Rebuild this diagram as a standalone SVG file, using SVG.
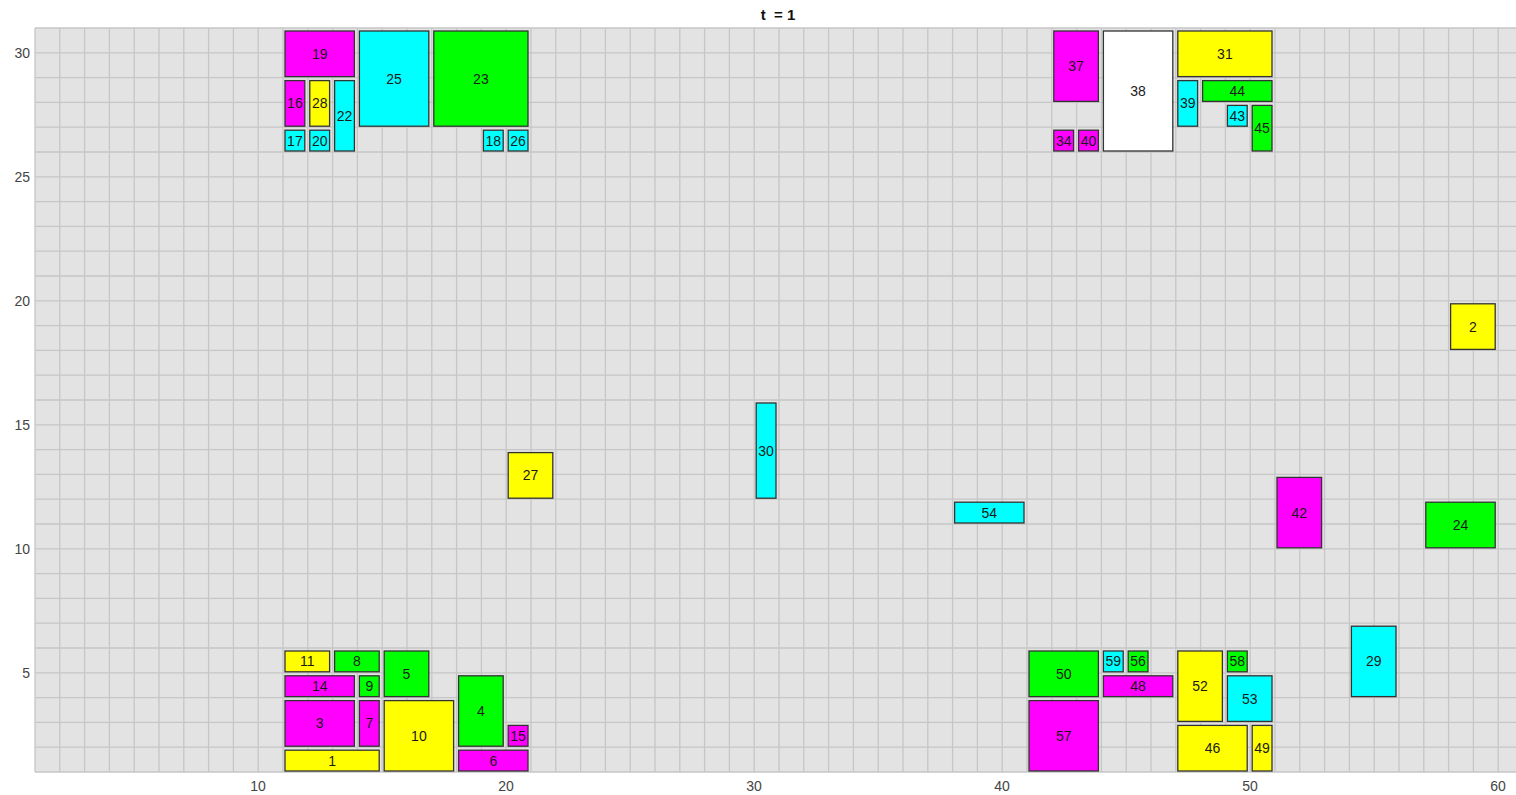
<svg xmlns="http://www.w3.org/2000/svg" width="1516" height="795" viewBox="0 0 1516 795">
<style>
.bg{fill:#e3e3e3}
.grid{stroke:#c6c6c6;stroke-width:1.3;fill:none}
.tick{font-family:"Liberation Sans",Arial,sans-serif;font-size:14px;fill:#444}
.title{font-family:"Liberation Sans",Arial,sans-serif;font-size:15px;font-weight:bold;fill:#111}
.n rect{stroke:#333;stroke-width:1.3}
.n text{font-family:"Liberation Sans",Arial,sans-serif;font-size:14px;fill:#1a1a1a;text-anchor:middle}
.M{fill:#ff00ff}.C{fill:#00ffff}.Y{fill:#ffff00}.G{fill:#00ff00}.W{fill:#ffffff}
</style>
<rect width="1516" height="795" fill="#ffffff"/>
<rect class="bg" x="35" y="28" width="1481" height="744"/>
<g id="grid">
<path class="grid" d="M35,28V772M59.8,28V772M84.6,28V772M109.4,28V772M134.2,28V772M159,28V772M183.8,28V772M208.6,28V772M233.4,28V772M258.2,28V772M283,28V772M307.8,28V772M332.6,28V772M357.4,28V772M382.2,28V772M407,28V772M431.8,28V772M456.6,28V772M481.4,28V772M506.2,28V772M531,28V772M555.8,28V772M580.6,28V772M605.4,28V772M630.2,28V772M655,28V772M679.8,28V772M704.6,28V772M729.4,28V772M754.2,28V772M779,28V772M803.8,28V772M828.6,28V772M853.4,28V772M878.2,28V772M903,28V772M927.8,28V772M952.6,28V772M977.4,28V772M1002.2,28V772M1027,28V772M1051.8,28V772M1076.6,28V772M1101.4,28V772M1126.2,28V772M1151,28V772M1175.8,28V772M1200.6,28V772M1225.4,28V772M1250.2,28V772M1275,28V772M1299.8,28V772M1324.6,28V772M1349.4,28V772M1374.2,28V772M1399,28V772M1423.8,28V772M1448.6,28V772M1473.4,28V772M1498.2,28V772"/>
<path class="grid" d="M35,28H1516M35,52.8H1516M35,77.6H1516M35,102.4H1516M35,127.2H1516M35,152H1516M35,176.8H1516M35,201.6H1516M35,226.4H1516M35,251.2H1516M35,276H1516M35,300.8H1516M35,325.6H1516M35,350.4H1516M35,375.2H1516M35,400H1516M35,424.8H1516M35,449.6H1516M35,474.4H1516M35,499.2H1516M35,524H1516M35,548.8H1516M35,573.6H1516M35,598.4H1516M35,623.2H1516M35,648H1516M35,672.8H1516M35,697.6H1516M35,722.4H1516M35,747.2H1516M35,772H1516"/>
</g>
<g id="axes">
<text class="tick" x="30" y="57.8" text-anchor="end">30</text>
<text class="tick" x="30" y="181.8" text-anchor="end">25</text>
<text class="tick" x="30" y="305.8" text-anchor="end">20</text>
<text class="tick" x="30" y="429.8" text-anchor="end">15</text>
<text class="tick" x="30" y="553.8" text-anchor="end">10</text>
<text class="tick" x="30" y="677.8" text-anchor="end">5</text>
<text class="tick" x="258" y="791" text-anchor="middle">10</text>
<text class="tick" x="506" y="791" text-anchor="middle">20</text>
<text class="tick" x="754" y="791" text-anchor="middle">30</text>
<text class="tick" x="1002" y="791" text-anchor="middle">40</text>
<text class="tick" x="1250" y="791" text-anchor="middle">50</text>
<text class="tick" x="1498" y="791" text-anchor="middle">60</text>
<text class="title" x="778" y="19.5" text-anchor="middle" xml:space="preserve">t  = 1</text>
</g>
<g id="connectors"></g>
<g id="n1" class="n" transform="translate(285,750.2)"><rect class="Y" width="94.2" height="20.8"/><text x="47.1" y="15.4">1</text></g>
<g id="n3" class="n" transform="translate(285,700.6)"><rect class="M" width="69.4" height="45.6"/><text x="34.7" y="27.8">3</text></g>
<g id="n4" class="n" transform="translate(458.6,675.8)"><rect class="G" width="44.6" height="70.4"/><text x="22.3" y="40.2">4</text></g>
<g id="n5" class="n" transform="translate(384.2,651)"><rect class="G" width="44.6" height="45.6"/><text x="22.3" y="27.8">5</text></g>
<g id="n6" class="n" transform="translate(458.6,750.2)"><rect class="M" width="69.4" height="20.8"/><text x="34.7" y="15.4">6</text></g>
<g id="n7" class="n" transform="translate(359.4,700.6)"><rect class="M" width="19.8" height="45.6"/><text x="9.9" y="27.8">7</text></g>
<g id="n8" class="n" transform="translate(334.6,651)"><rect class="G" width="44.6" height="20.8"/><text x="22.3" y="15.4">8</text></g>
<g id="n9" class="n" transform="translate(359.4,675.8)"><rect class="G" width="19.8" height="20.8"/><text x="9.9" y="15.4">9</text></g>
<g id="n10" class="n" transform="translate(384.2,700.6)"><rect class="Y" width="69.4" height="70.4"/><text x="34.7" y="40.2">10</text></g>
<g id="n11" class="n" transform="translate(285,651)"><rect class="Y" width="44.6" height="20.8"/><text x="22.3" y="15.4">11</text></g>
<g id="n14" class="n" transform="translate(285,675.8)"><rect class="M" width="69.4" height="20.8"/><text x="34.7" y="15.4">14</text></g>
<g id="n15" class="n" transform="translate(508.2,725.4)"><rect class="M" width="19.8" height="20.8"/><text x="9.9" y="15.4">15</text></g>
<g id="n16" class="n" transform="translate(285,80.6)"><rect class="M" width="19.8" height="45.6"/><text x="9.9" y="27.8">16</text></g>
<g id="n17" class="n" transform="translate(285,130.2)"><rect class="C" width="19.8" height="20.8"/><text x="9.9" y="15.4">17</text></g>
<g id="n18" class="n" transform="translate(483.4,130.2)"><rect class="C" width="19.8" height="20.8"/><text x="9.9" y="15.4">18</text></g>
<g id="n19" class="n" transform="translate(285,31)"><rect class="M" width="69.4" height="45.6"/><text x="34.7" y="27.8">19</text></g>
<g id="n20" class="n" transform="translate(309.8,130.2)"><rect class="C" width="19.8" height="20.8"/><text x="9.9" y="15.4">20</text></g>
<g id="n22" class="n" transform="translate(334.6,80.6)"><rect class="C" width="19.8" height="70.4"/><text x="9.9" y="40.2">22</text></g>
<g id="n23" class="n" transform="translate(433.8,31)"><rect class="G" width="94.2" height="95.2"/><text x="47.1" y="52.6">23</text></g>
<g id="n25" class="n" transform="translate(359.4,31)"><rect class="C" width="69.4" height="95.2"/><text x="34.7" y="52.6">25</text></g>
<g id="n26" class="n" transform="translate(508.2,130.2)"><rect class="C" width="19.8" height="20.8"/><text x="9.9" y="15.4">26</text></g>
<g id="n28" class="n" transform="translate(309.8,80.6)"><rect class="Y" width="19.8" height="45.6"/><text x="9.9" y="27.8">28</text></g>
<g id="n2" class="n" transform="translate(1450.6,303.8)"><rect class="Y" width="44.6" height="45.6"/><text x="22.3" y="27.8">2</text></g>
<g id="n24" class="n" transform="translate(1425.8,502.2)"><rect class="G" width="69.4" height="45.6"/><text x="34.7" y="27.8">24</text></g>
<g id="n27" class="n" transform="translate(508.2,452.6)"><rect class="Y" width="44.6" height="45.6"/><text x="22.3" y="27.8">27</text></g>
<g id="n29" class="n" transform="translate(1351.4,626.2)"><rect class="C" width="44.6" height="70.4"/><text x="22.3" y="40.2">29</text></g>
<g id="n30" class="n" transform="translate(756.2,403)"><rect class="C" width="19.8" height="95.2"/><text x="9.9" y="52.6">30</text></g>
<g id="n31" class="n" transform="translate(1177.8,31)"><rect class="Y" width="94.2" height="45.6"/><text x="47.1" y="27.8">31</text></g>
<g id="n34" class="n" transform="translate(1053.8,130.2)"><rect class="M" width="19.8" height="20.8"/><text x="9.9" y="15.4">34</text></g>
<g id="n37" class="n" transform="translate(1053.8,31)"><rect class="M" width="44.6" height="70.4"/><text x="22.3" y="40.2">37</text></g>
<g id="n38" class="n" transform="translate(1103.4,31)"><rect class="W" width="69.4" height="120"/><text x="34.7" y="65">38</text></g>
<g id="n39" class="n" transform="translate(1177.8,80.6)"><rect class="C" width="19.8" height="45.6"/><text x="9.9" y="27.8">39</text></g>
<g id="n40" class="n" transform="translate(1078.6,130.2)"><rect class="M" width="19.8" height="20.8"/><text x="9.9" y="15.4">40</text></g>
<g id="n42" class="n" transform="translate(1277,477.4)"><rect class="M" width="44.6" height="70.4"/><text x="22.3" y="40.2">42</text></g>
<g id="n43" class="n" transform="translate(1227.4,105.4)"><rect class="C" width="19.8" height="20.8"/><text x="9.9" y="15.4">43</text></g>
<g id="n44" class="n" transform="translate(1202.6,80.6)"><rect class="G" width="69.4" height="20.8"/><text x="34.7" y="15.4">44</text></g>
<g id="n45" class="n" transform="translate(1252.2,105.4)"><rect class="G" width="19.8" height="45.6"/><text x="9.9" y="27.8">45</text></g>
<g id="n46" class="n" transform="translate(1177.8,725.4)"><rect class="Y" width="69.4" height="45.6"/><text x="34.7" y="27.8">46</text></g>
<g id="n48" class="n" transform="translate(1103.4,675.8)"><rect class="M" width="69.4" height="20.8"/><text x="34.7" y="15.4">48</text></g>
<g id="n49" class="n" transform="translate(1252.2,725.4)"><rect class="Y" width="19.8" height="45.6"/><text x="9.9" y="27.8">49</text></g>
<g id="n50" class="n" transform="translate(1029,651)"><rect class="G" width="69.4" height="45.6"/><text x="34.7" y="27.8">50</text></g>
<g id="n52" class="n" transform="translate(1177.8,651)"><rect class="Y" width="44.6" height="70.4"/><text x="22.3" y="40.2">52</text></g>
<g id="n53" class="n" transform="translate(1227.4,675.8)"><rect class="C" width="44.6" height="45.6"/><text x="22.3" y="27.8">53</text></g>
<g id="n54" class="n" transform="translate(954.6,502.2)"><rect class="C" width="69.4" height="20.8"/><text x="34.7" y="15.4">54</text></g>
<g id="n56" class="n" transform="translate(1128.2,651)"><rect class="G" width="19.8" height="20.8"/><text x="9.9" y="15.4">56</text></g>
<g id="n57" class="n" transform="translate(1029,700.6)"><rect class="M" width="69.4" height="70.4"/><text x="34.7" y="40.2">57</text></g>
<g id="n58" class="n" transform="translate(1227.4,651)"><rect class="G" width="19.8" height="20.8"/><text x="9.9" y="15.4">58</text></g>
<g id="n59" class="n" transform="translate(1103.4,651)"><rect class="C" width="19.8" height="20.8"/><text x="9.9" y="15.4">59</text></g>
</svg>
